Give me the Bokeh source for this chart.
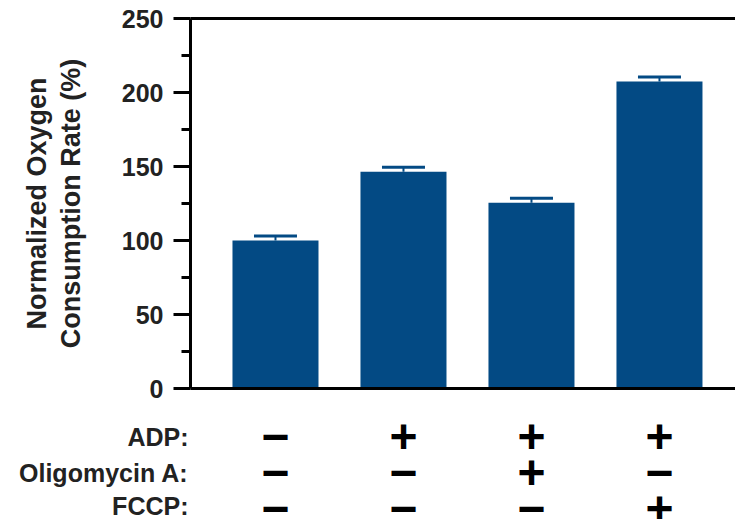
from bokeh.plotting import figure
from bokeh.layouts import column
from bokeh.models import Range1d, FixedTicker, LinearAxis, Whisker, ColumnDataSource, TeeHead
from bokeh.core.properties import value
from bokeh.embed import file_html
from bokeh.resources import INLINE

# ---- data ----
positions = [0, 1, 2, 3]
ocr_values = [100, 146.5, 125.5, 207.5]
ocr_errors = [3, 3, 3, 3]
row_labels = ["ADP:", "Oligomycin A:", "FCCP:"]
adp = ["−", "+", "+", "+"]
oligomycin = ["−", "−", "+", "−"]
fccp = ["−", "−", "−", "+"]
y_ticks = [0, 50, 100, 150, 200, 250]
y_minor = [25, 75, 125, 175, 225]

BLUE = "#034a84"
FONT = "Liberation Sans"
W = 735
LEFT = 190

xr = Range1d(-0.664, 3.594)

# ---------------- bar chart ----------------
p = figure(width=W, height=408, output_backend="svg", toolbar_location=None,
           x_range=xr, y_range=Range1d(0, 250),
           min_border_left=LEFT, min_border_right=0, min_border_top=18, min_border_bottom=20)
p.outline_line_color = None
p.grid.visible = False

src = ColumnDataSource(dict(x=positions, top=ocr_values,
                            upper=[v + e for v, e in zip(ocr_values, ocr_errors)]))
p.vbar(x="x", top="top", bottom=0, width=0.672, source=src, fill_color=BLUE, line_color=None)

w = Whisker(base="x", lower="top", upper="upper", source=src, dimension="height",
            line_color=BLUE, line_width=2,
            upper_head=TeeHead(size=43, line_color=BLUE, line_width=3),
            lower_head=None, level="underlay")
p.add_layout(w)

xa = p.xaxis[0]
xa.ticker = FixedTicker(ticks=[])
xa.major_label_text_font_size = "0px"
xa.axis_line_width = 3
xa.major_tick_line_color = None
xa.minor_tick_line_color = None

top_axis = LinearAxis(ticker=FixedTicker(ticks=[]), axis_line_width=3,
                      major_tick_line_color=None, minor_tick_line_color=None,
                      major_label_text_font_size="0px")
p.add_layout(top_axis, "above")

ya = p.yaxis[0]
ya.ticker = FixedTicker(ticks=y_ticks, minor_ticks=y_minor)
ya.axis_line_width = 3
ya.major_tick_line_width = 3
ya.minor_tick_line_width = 3
ya.major_tick_out = 17
ya.major_tick_in = 0
ya.minor_tick_out = 9
ya.minor_tick_in = 0
ya.major_label_standoff = 10
ya.major_label_text_font = FONT
ya.major_label_text_font_style = "bold"
ya.major_label_text_font_size = "25px"
ya.major_label_text_color = "#222222"
ya.axis_label = "Normalized Oxygen\nConsumption Rate (%)"
ya.axis_label_text_font = FONT
ya.axis_label_text_font_style = "bold"
ya.axis_label_text_font_size = "27px"
ya.axis_label_text_color = "#222222"
ya.axis_label_standoff = 33
ya.axis_label_text_line_height = 1.12

# ---------------- treatment table ----------------
TH = 111
ROW_PX = 36
ROW0 = 28
t = figure(width=W, height=TH, output_backend="svg", toolbar_location=None,
           x_range=xr, y_range=Range1d((TH - ROW0) / ROW_PX, -ROW0 / ROW_PX),
           min_border_left=LEFT, min_border_right=0, min_border_top=0, min_border_bottom=0)
t.outline_line_color = None
t.grid.visible = False
t.xaxis.visible = False

ty = t.yaxis[0]
ty.ticker = FixedTicker(ticks=list(range(len(row_labels))))
ty.major_label_overrides = {i: lab for i, lab in enumerate(row_labels)}
ty.axis_line_color = None
ty.major_tick_line_color = None
ty.minor_tick_line_color = None
ty.major_tick_out = 0
ty.major_tick_in = 0
ty.minor_tick_out = 0
ty.minor_tick_in = 0
ty.major_label_standoff = 2
ty.major_label_text_font = FONT
ty.major_label_text_font_style = "bold"
ty.major_label_text_font_size = "25px"
ty.major_label_text_color = "#222222"

rows = [adp, oligomycin, fccp]
sx, sy, st = [], [], []
for r, signs in enumerate(rows):
    for xpos, s in zip(positions, signs):
        sx.append(xpos)
        sy.append(r)
        st.append(s)
t.text(x=sx, y=sy, text=st, text_font=value(FONT), text_font_style="bold",
       text_font_size="48px", text_align="center", text_baseline="middle", text_color="black")

open("out.html", "w").write(file_html(column(p, t), INLINE))
